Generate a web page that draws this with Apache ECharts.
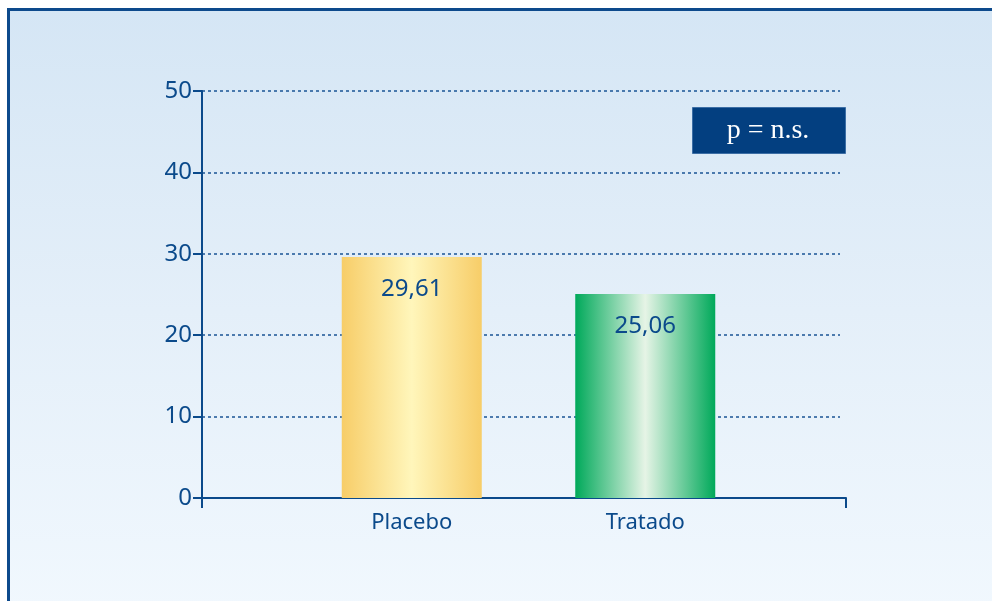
<!DOCTYPE html>
<html>
<head>
<meta charset="utf-8">
<script src="https://cdn.jsdelivr.net/npm/echarts@6/dist/echarts.min.js"></script>
<style>
html,body{margin:0;padding:0;background:#ffffff;}
#frame{position:absolute;left:7px;top:8px;width:990px;height:600px;border-left:3px solid #0d4a8c;border-top:3px solid #0d4a8c;background:linear-gradient(to bottom,#d5e6f5 0%,#e4eff9 50%,#f1f8fe 100%);}
#chart{position:absolute;left:0;top:0;width:992px;height:601px;}
</style>
</head>
<body>
<div id="frame"></div>
<div id="chart"></div>
<script>
var categories = ['Placebo', 'Tratado'];
var values = [29.61, 25.06];
var yTicks = { min: 0, max: 50, interval: 10 };
var note = 'p = n.s.';

var navy = '#0b4a8b';
var gradients = [
  new echarts.graphic.LinearGradient(0, 0, 1, 0, [
    { offset: 0, color: '#f7cd68' },
    { offset: 0.5, color: '#fff6bb' },
    { offset: 1, color: '#f7cd68' }
  ]),
  new echarts.graphic.LinearGradient(0, 0, 1, 0, [
    { offset: 0, color: '#00a95a' },
    { offset: 0.5, color: '#e6f4e6' },
    { offset: 1, color: '#00a95a' }
  ])
];

var chart = echarts.init(document.getElementById('chart'), null, { renderer: 'canvas' });
chart.setOption({
  backgroundColor: 'transparent',
  animation: false,
  grid: [
    { left: 202, right: 152, top: 91, bottom: 103 },
    { left: 295, right: 230, top: 91, bottom: 103 },
    { left: 202, right: 146, top: 91, bottom: 103 }
  ],
  xAxis: [
    { gridIndex: 0, type: 'value', min: 0, max: 1, show: false },
    {
      gridIndex: 1, type: 'category', data: categories,
      axisLine: { show: false },
      axisTick: { show: false },
      axisLabel: { color: navy, fontSize: 22, fontFamily: 'Noto Sans', margin: 14 }
    },
    {
      gridIndex: 2, type: 'value', min: 0, max: 1, interval: 1,
      axisLine: { show: true, lineStyle: { color: navy, width: 2 } },
      axisTick: { show: true, length: 10, lineStyle: { color: navy, width: 2 } },
      axisLabel: { show: false },
      splitLine: { show: false }
    }
  ],
  yAxis: [
    {
      gridIndex: 0, type: 'value', min: yTicks.min, max: yTicks.max, interval: yTicks.interval,
      axisLine: { show: true, lineStyle: { color: navy, width: 2 } },
      axisTick: { show: true, length: 9, lineStyle: { color: navy, width: 2 } },
      axisLabel: { color: navy, fontSize: 24, fontFamily: 'Noto Sans', margin: 10 },
      splitLine: { show: true, lineStyle: { color: '#1a5495', width: 1.5, type: [3, 3] } }
    },
    { gridIndex: 1, type: 'value', min: yTicks.min, max: yTicks.max, show: false },
    { gridIndex: 2, type: 'value', min: yTicks.min, max: yTicks.max, show: false }
  ],
  series: [{
    type: 'bar',
    xAxisIndex: 1, yAxisIndex: 1,
    barWidth: 140,
    data: values.map(function (v, i) { return { value: v, itemStyle: { color: gradients[i] } }; }),
    label: {
      show: true, position: 'insideTop', distance: 20,
      color: navy, fontSize: 24, fontFamily: 'Noto Sans',
      formatter: function (p) { return String(p.value).replace('.', ','); }
    }
  }],
  graphic: [
    {
      type: 'rect', left: 692, top: 107, z: 10,
      shape: { width: 153, height: 46 },
      style: { fill: '#033f80', stroke: '#3c6ea5', lineWidth: 1 }
    },
    {
      type: 'text', x: 768, y: 131, z: 11,
      style: { text: note, fill: '#ffffff', font: '28px "Liberation Serif"', align: 'center', verticalAlign: 'middle' }
    }
  ]
});
</script>
</body>
</html>
